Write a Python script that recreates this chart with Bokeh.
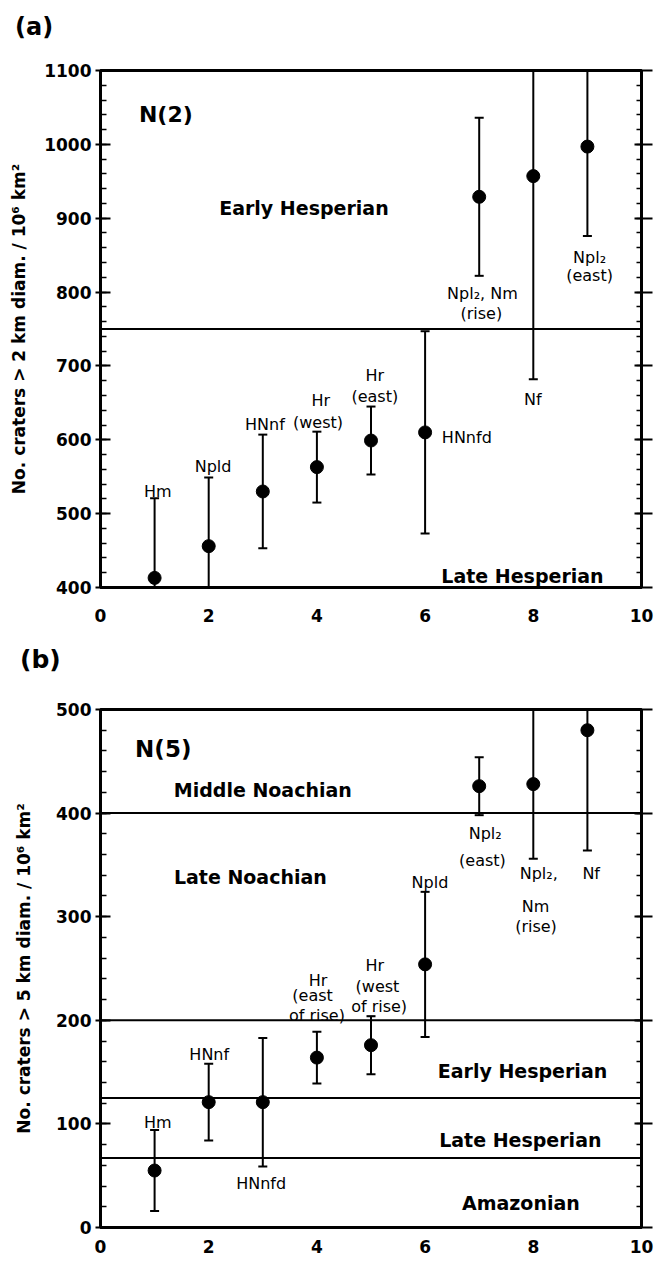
from bokeh.plotting import figure
from bokeh.layouts import column
from bokeh.models import (Span, LinearAxis, SingleIntervalTicker, FixedTicker, Range1d, Div,
                          CustomJSTickFormatter)
from bokeh.core.properties import value
from bokeh.embed import file_html
from bokeh.resources import INLINE

# ---------------- data ----------------
units = [1, 2, 3, 4, 5, 6, 7, 8, 9]

# (a) N(2): craters > 2 km per 10^6 km^2
n2 = [413, 456, 530, 563, 599, 610, 929, 957, 997]
n2_err = [108, 93, 77, 48, 46, 137, 107, 275, 121]

# (b) N(5): craters > 5 km per 10^6 km^2
n5 = [55, 121, 121, 164, 176, 254, 426, 428, 480]
n5_err = [39, 37, 62, 25, 28, 70, 28, 72, 116]

bounds_a = [750]
bounds_b = [400, 200, 125, 67]

x_ticks = [0, 2, 4, 6, 8, 10]

# point labels (text, x, baseline y)
lab_a_text = ["Hm", "Npld", "HNnf", "Hr", "(west)", "Hr", "(east)",
              "Npl\u2082, Nm", "(rise)", "Nf", "Npl\u2082", "(east)"]
lab_a_x = [1.06, 2.08, 3.04, 4.07, 4.02, 5.07, 5.07, 7.06, 7.04, 7.99, 9.04, 9.04]
lab_a_y = [530, 564, 621, 653, 624, 687, 658, 798, 771, 654, 847, 822]
lab_a_side = ["HNnfd"]
lab_a_side_x = [6.31]
lab_a_side_y = [603]

reg_a_text = ["Early Hesperian", "Late Hesperian"]
reg_a_x = [3.76, 7.8]
reg_a_y = [914, 416]

lab_b_text = ["Hm", "HNnf", "HNnfd", "Hr", "(east", "of rise)", "Hr", "(west", "of rise)",
              "Npld", "Npl\u2082", "(east)", "Npl\u2082,", "Nm", "(rise)", "Nf"]
lab_b_x = [1.06, 2.01, 2.97, 4.02, 3.92, 4.0, 5.07, 5.12, 5.15,
           6.09, 7.11, 7.06, 8.1, 8.04, 8.05, 9.07]
lab_b_y = [101, 167, 42, 238, 224, 205, 253, 233, 213,
           333, 380, 354, 342, 310, 291, 342]

reg_b_text = ["Middle Noachian", "Late Noachian", "Early Hesperian", "Late Hesperian", "Amazonian"]
reg_b_x = [3.0, 2.77, 7.8, 7.76, 7.77]
reg_b_y = [422, 338, 151, 84, 24]

FONT = "DejaVu Sans"


def make_panel(vals, errs, ymin, ymax, width, height, borders, ylabel, ylabel_standoff,
               xlab_standoff, bounds, lab_t, lab_x, lab_y, reg_t, reg_x, reg_y,
               ntitle, ntitle_xy, ntitle_size):
    bl, br, bt, bb = borders
    p = figure(width=width, height=height, x_range=Range1d(0, 10), y_range=Range1d(ymin, ymax),
               output_backend="svg", toolbar_location=None,
               min_border_left=bl, min_border_right=br, min_border_top=bt, min_border_bottom=bb)
    p.grid.visible = False
    p.outline_line_color = "black"
    p.outline_line_width = 3
    p.background_fill_color = "white"
    p.border_fill_color = "white"

    # left axis
    ya = p.yaxis[0]
    ya.ticker = SingleIntervalTicker(interval=100, num_minor_ticks=5)
    ya.axis_line_width = 3
    ya.axis_line_color = "black"
    ya.major_tick_in = 10
    ya.major_tick_out = 5
    ya.major_tick_line_width = 2
    ya.minor_tick_in = 6
    ya.minor_tick_out = 0
    ya.minor_tick_line_width = 1.5
    ya.major_label_text_font = FONT
    ya.major_label_text_font_style = "bold"
    ya.major_label_text_font_size = "17px"
    ya.major_label_text_color = "black"
    ya.major_label_standoff = 4
    ya.axis_label = ylabel
    ya.axis_label_text_font = FONT
    ya.axis_label_text_font_style = "bold"
    ya.axis_label_text_font_size = "17px"
    ya.axis_label_text_color = "black"
    ya.axis_label_standoff = ylabel_standoff

    # right axis (ticks only)
    ra = LinearAxis(ticker=SingleIntervalTicker(interval=100, num_minor_ticks=5),
                    formatter=CustomJSTickFormatter(code="return ''"))
    ra.axis_line_width = 3
    ra.axis_line_color = "black"
    ra.major_tick_in = 7
    ra.major_tick_out = 11
    ra.major_tick_line_width = 2
    ra.minor_tick_in = 5
    ra.minor_tick_out = 0
    ra.minor_tick_line_width = 1.5
    ra.major_label_standoff = 0
    ra.major_label_text_font_size = "1px"
    p.add_layout(ra, "right")

    # bottom axis
    xa = p.xaxis[0]
    xa.ticker = FixedTicker(ticks=x_ticks)
    xa.axis_line_width = 3
    xa.axis_line_color = "black"
    xa.major_tick_in = 0
    xa.major_tick_out = 0
    xa.minor_tick_in = 0
    xa.minor_tick_out = 0
    xa.major_label_text_font = FONT
    xa.major_label_text_font_style = "bold"
    xa.major_label_text_font_size = "17px"
    xa.major_label_text_color = "black"
    xa.major_label_standoff = xlab_standoff

    for b in bounds:
        p.add_layout(Span(location=b, dimension="width", line_color="black", line_width=2))

    lo = [v - e for v, e in zip(vals, errs)]
    hi = [v + e for v, e in zip(vals, errs)]
    p.segment(x0=units, y0=lo, x1=units, y1=hi, line_color="black", line_width=2)
    p.scatter(x=units + units, y=lo + hi, marker="dash", size=9, line_color="black", line_width=2)
    p.scatter(x=units, y=vals, marker="circle", size=13, fill_color="black", line_color="black")

    p.text(x=lab_x, y=lab_y, text=lab_t, text_font=value(FONT), text_font_size="16px",
           text_align="center", text_baseline="alphabetic", text_color="black")
    p.text(x=reg_x, y=reg_y, text=reg_t, text_font=value(FONT), text_font_size="19px",
           text_font_style="bold", text_align="center", text_baseline="alphabetic", text_color="black")
    p.text(x=[ntitle_xy[0]], y=[ntitle_xy[1]], text=[ntitle], text_font=value(FONT),
           text_font_size=ntitle_size, text_font_style="bold", text_align="left",
           text_baseline="alphabetic", text_color="black")
    return p


def panel_tag(text, height, pad_top, pad_left, size):
    html = ("<div style='font-family: \"DejaVu Sans\"; font-weight: bold; font-size: %dpx; "
            "line-height: 1.15; padding-top: %dpx; padding-left: %dpx; color: black; margin: 0;'>%s</div>"
            % (size, pad_top, pad_left, text))
    return Div(text=html, width=666, height=height, margin=(0, 0, 0, 0))


tag_a = panel_tag("(a)", 40, 14, 15, 24)
pa = make_panel(n2, n2_err, 400, 1100, 666, 590, (100, 19, 30, 43),
                "No. craters > 2 km diam. / 10\u2076 km\u00b2", 12, 21, bounds_a,
                lab_a_text, lab_a_x, lab_a_y, reg_a_text, reg_a_x, reg_a_y,
                "N(2)", (0.71, 1041), "22px")
pa.text(x=lab_a_side_x, y=lab_a_side_y, text=lab_a_side, text_font=value(FONT), text_font_size="16px",
        text_align="left", text_baseline="alphabetic", text_color="black")

tag_b = panel_tag("(b)", 60, 16, 20, 25)
pb = make_panel(n5, n5_err, 0, 500, 666, 574, (97, 25, 19, 37),
                "No. craters > 5 km diam. / 10\u2076 km\u00b2", 19, 12, bounds_b,
                lab_b_text, lab_b_x, lab_b_y, reg_b_text, reg_b_x, reg_b_y,
                "N(5)", (0.64, 462), "23px")

layout = column(tag_a, pa, tag_b, pb, spacing=0)
open("out.html", "w").write(file_html(layout, INLINE))
